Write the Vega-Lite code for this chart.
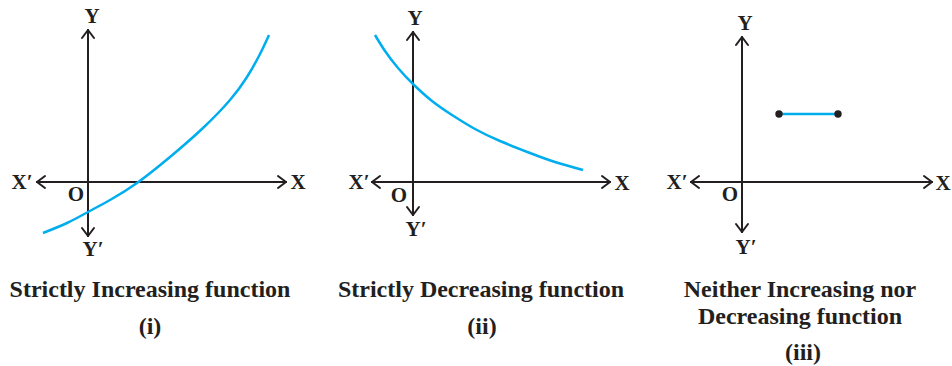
{
  "$schema": "https://vega.github.io/schema/vega-lite/v6.json",
  "width": 952,
  "height": 366,
  "autosize": {"type": "fit", "contains": "padding"},
  "padding": 0,
  "background": "white",
  "config": {"view": {"stroke": null}},
  "datasets": {
    "rules": [
      {"x": 88, "y": 30, "x2": 88, "y2": 236},
      {"x": 88, "y": 30, "x2": 82, "y2": 38},
      {"x": 88, "y": 30, "x2": 94, "y2": 38},
      {"x": 88, "y": 236, "x2": 82, "y2": 228},
      {"x": 88, "y": 236, "x2": 94, "y2": 228},
      {"x": 37, "y": 182, "x2": 286, "y2": 182},
      {"x": 37, "y": 182, "x2": 45, "y2": 176},
      {"x": 37, "y": 182, "x2": 45, "y2": 188},
      {"x": 286, "y": 182, "x2": 278, "y2": 176},
      {"x": 286, "y": 182, "x2": 278, "y2": 188},

      {"x": 413, "y": 32, "x2": 413, "y2": 215},
      {"x": 413, "y": 32, "x2": 407, "y2": 40},
      {"x": 413, "y": 32, "x2": 419, "y2": 40},
      {"x": 413, "y": 215, "x2": 407, "y2": 207},
      {"x": 413, "y": 215, "x2": 419, "y2": 207},
      {"x": 372, "y": 182, "x2": 610, "y2": 182},
      {"x": 372, "y": 182, "x2": 380, "y2": 176},
      {"x": 372, "y": 182, "x2": 380, "y2": 188},
      {"x": 610, "y": 182, "x2": 602, "y2": 176},
      {"x": 610, "y": 182, "x2": 602, "y2": 188},

      {"x": 742, "y": 37, "x2": 742, "y2": 232},
      {"x": 742, "y": 37, "x2": 736, "y2": 45},
      {"x": 742, "y": 37, "x2": 748, "y2": 45},
      {"x": 742, "y": 232, "x2": 736, "y2": 224},
      {"x": 742, "y": 232, "x2": 748, "y2": 224},
      {"x": 691, "y": 182, "x2": 932, "y2": 182},
      {"x": 691, "y": 182, "x2": 699, "y2": 176},
      {"x": 691, "y": 182, "x2": 699, "y2": 188},
      {"x": 932, "y": 182, "x2": 924, "y2": 176},
      {"x": 932, "y": 182, "x2": 924, "y2": 188}
    ],
    "curves": [
      {"c": "i", "o": 1, "x": 43, "y": 233},
      {"c": "i", "o": 2, "x": 67, "y": 223},
      {"c": "i", "o": 3, "x": 88, "y": 212},
      {"c": "i", "o": 4, "x": 110, "y": 200},
      {"c": "i", "o": 5, "x": 137, "y": 183},
      {"c": "i", "o": 6, "x": 170, "y": 157},
      {"c": "i", "o": 7, "x": 203, "y": 128},
      {"c": "i", "o": 8, "x": 230, "y": 100},
      {"c": "i", "o": 9, "x": 247, "y": 77},
      {"c": "i", "o": 10, "x": 260, "y": 54},
      {"c": "i", "o": 11, "x": 269, "y": 35},

      {"c": "ii", "o": 1, "x": 375, "y": 35},
      {"c": "ii", "o": 2, "x": 385, "y": 51},
      {"c": "ii", "o": 3, "x": 398, "y": 68},
      {"c": "ii", "o": 4, "x": 413, "y": 84},
      {"c": "ii", "o": 5, "x": 432, "y": 101},
      {"c": "ii", "o": 6, "x": 452, "y": 115},
      {"c": "ii", "o": 7, "x": 475, "y": 129},
      {"c": "ii", "o": 8, "x": 500, "y": 141},
      {"c": "ii", "o": 9, "x": 530, "y": 153},
      {"c": "ii", "o": 10, "x": 555, "y": 162},
      {"c": "ii", "o": 11, "x": 583, "y": 170},

      {"c": "iii", "o": 1, "x": 779, "y": 114},
      {"c": "iii", "o": 2, "x": 838, "y": 114}
    ],
    "dots": [
      {"x": 779, "y": 114},
      {"x": 838, "y": 114}
    ],
    "axisLabels": [
      {"x": 92, "y": 17, "t": "Y"},
      {"x": 22, "y": 183, "t": "X′"},
      {"x": 298, "y": 183, "t": "X"},
      {"x": 76, "y": 195, "t": "O"},
      {"x": 93, "y": 250, "t": "Y′"},
      {"x": 415, "y": 19, "t": "Y"},
      {"x": 359, "y": 183, "t": "X′"},
      {"x": 622, "y": 184, "t": "X"},
      {"x": 399, "y": 196, "t": "O"},
      {"x": 416, "y": 230, "t": "Y′"},
      {"x": 745, "y": 24, "t": "Y"},
      {"x": 677, "y": 183, "t": "X′"},
      {"x": 943, "y": 184, "t": "X"},
      {"x": 730, "y": 195, "t": "O"},
      {"x": 746, "y": 248, "t": "Y′"}
    ],
    "titles": [
      {"x": 150, "y": 290, "t": "Strictly Increasing function"},
      {"x": 150, "y": 327, "t": "(i)"},
      {"x": 481, "y": 290, "t": "Strictly Decreasing function"},
      {"x": 482, "y": 327, "t": "(ii)"},
      {"x": 800, "y": 290, "t": "Neither Increasing nor"},
      {"x": 800, "y": 317, "t": "Decreasing function"},
      {"x": 803, "y": 353, "t": "(iii)"}
    ]
  },
  "layer": [
    {
      "data": {"name": "rules"},
      "mark": {"type": "rule", "color": "#231f20", "strokeWidth": 2, "strokeCap": "round"},
      "encoding": {
        "x": {"field": "x", "type": "quantitative", "scale": {"domain": [0, 952], "nice": false, "zero": false}, "axis": null},
        "y": {"field": "y", "type": "quantitative", "scale": {"domain": [0, 366], "nice": false, "zero": false, "reverse": true}, "axis": null},
        "x2": {"field": "x2"},
        "y2": {"field": "y2"}
      }
    },
    {
      "data": {"name": "curves"},
      "mark": {"type": "line", "color": "#00aeef", "strokeWidth": 2.5, "interpolate": "natural"},
      "encoding": {
        "x": {"field": "x", "type": "quantitative"},
        "y": {"field": "y", "type": "quantitative"},
        "detail": {"field": "c"},
        "order": {"field": "o"}
      }
    },
    {
      "data": {"name": "dots"},
      "mark": {"type": "circle", "color": "#231f20", "size": 55, "opacity": 1},
      "encoding": {
        "x": {"field": "x", "type": "quantitative"},
        "y": {"field": "y", "type": "quantitative"}
      }
    },
    {
      "data": {"name": "axisLabels"},
      "mark": {"type": "text", "font": "Liberation Serif", "fontWeight": "bold", "fontSize": 21, "color": "#231f20", "align": "center", "baseline": "middle"},
      "encoding": {
        "x": {"field": "x", "type": "quantitative"},
        "y": {"field": "y", "type": "quantitative"},
        "text": {"field": "t"}
      }
    },
    {
      "data": {"name": "titles"},
      "mark": {"type": "text", "font": "Liberation Serif", "fontWeight": "bold", "fontSize": 24, "color": "#231f20", "align": "center", "baseline": "middle"},
      "encoding": {
        "x": {"field": "x", "type": "quantitative"},
        "y": {"field": "y", "type": "quantitative"},
        "text": {"field": "t"}
      }
    }
  ]
}
